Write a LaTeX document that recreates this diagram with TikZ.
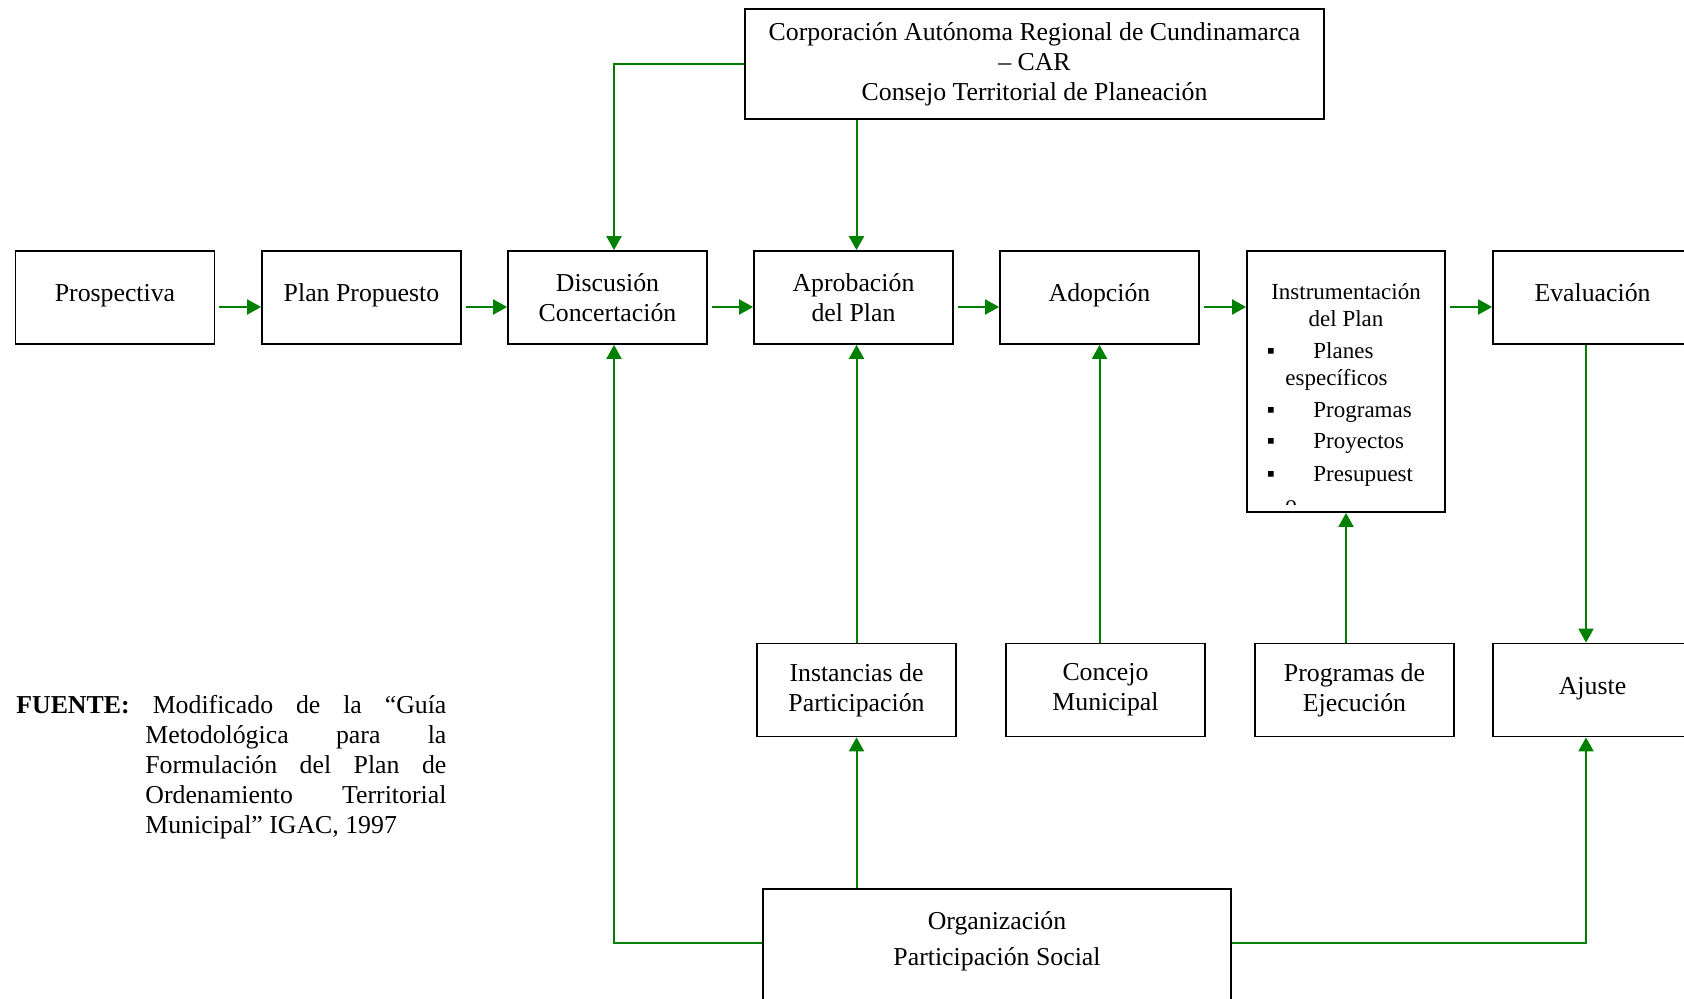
\documentclass[tikz,border=0pt]{standalone}
\usepackage{fontspec}
\setmainfont{Liberation Serif}
\usetikzlibrary{arrows.meta,positioning}

\definecolor{verde}{RGB}{0,128,0}
\tikzset{
  caja/.style={draw=black,line width=0.9pt,minimum width=99.5pt,minimum height=46.5pt,align=center,inner sep=2pt},
  una/.style={text depth=5pt},
  flecha/.style={draw=verde,line width=1pt,-{Triangle[length=7pt,width=7.5pt,fill=verde]}},
  lista/.style={font=\fontsize{11.5}{13}\selectfont,inner sep=0pt,anchor=base},
}

\begin{document}
\begin{tikzpicture}[x=0.5pt,y=-0.5pt,font=\fontsize{12.9}{15}\selectfont]
\clip (0,0) rectangle (1684,999);
% \draw[step=50,gray,very thin] (0,0) grid (1684,999);

% cajas
\node[caja,minimum width=289.5pt,minimum height=55pt] (corp) at (1034.5,64) {Corporación Autónoma Regional de Cundinamarca\\– CAR\\Consejo Territorial de Planeación};

\node[caja,una] (prosp) at (115,297.5) {Prospectiva};
\node[caja,una] (plan) at (361.5,297.5) {Plan Propuesto};
\node[caja] (disc) at (607.5,297.5) {Discusión\\Concertación};
\node[caja] (aprob) at (853.5,297.5) {Aprobación\\del Plan};
\node[caja,una] (adop) at (1099.5,297.5) {Adopción};
\node[caja,minimum width=99pt,minimum height=130.5pt] (instr) at (1346,381.5) {};
\node[caja,una] (eval) at (1592.5,297.5) {Evaluación};

\node[caja] (inst) at (856.5,690) {Instancias de\\Participación};
\node[caja] (conc) at (1105.5,690) {Concejo\\Municipal};
\node[caja] (prog) at (1354.5,690) {Programas de\\Ejecución};
\node[caja,text depth=3.8pt] (ajuste) at (1592.5,690) {Ajuste};

\node[caja,minimum width=234pt,minimum height=70pt] (org) at (997,959) {};
\node[align=center] (orgtxt) at (997,941) {Organización\\[3pt]Participación Social};

% texto de instrumentacion (cortado por la caja)
\begin{scope}
\clip (instr.north west) rectangle ([yshift=4pt]instr.south east);
\node[lista] (i1) at (1346,300) {Instrumentación};
\node[lista] (i2) at (1346,327) {del Plan};
\node[lista] (b1) at (1271,359) {▪};
\node[lista,anchor=base west] (i3) at (1313,359) {Planes};
\node[lista,anchor=base west] (i4) at (1285,386) {específicos};
\node[lista] (b2) at (1271,418) {▪};
\node[lista,anchor=base west] (i5) at (1313,418) {Programas};
\node[lista] (b3) at (1271,449) {▪};
\node[lista,anchor=base west] (i6) at (1313,449) {Proyectos};
\node[lista] (b4) at (1271,481) {▪};
\node[lista,anchor=base west] (i7) at (1313,481) {Presupuest};
\node[lista,anchor=base west] (i8) at (1285,511) {o};
\end{scope}

% fuente
\node[anchor=base west,inner sep=0pt,font=\fontsize{12.9}{15}\selectfont\bfseries] (fuente) at (16,713) {FUENTE:};
\node[anchor=north west,inner sep=0pt,align=left] (cita) at (145,695) {%
\hspace*{3.7pt}\makebox[146.8pt][s]{Modificado de la “Guía}\\
\makebox[150.5pt][s]{Metodológica para la}\\
\makebox[150.5pt][s]{Formulación del Plan de}\\
\makebox[150.5pt][s]{Ordenamiento Territorial}\\
Municipal” IGAC, 1997};

% flechas
\coordinate (fila) at (0,307);
\foreach \a/\b in {prosp/plan,plan/disc,disc/aprob,aprob/adop,adop/instr,instr/eval}
  \draw[flecha,shorten <=2pt] (\a.east |- fila) -- (\b.west |- fila);

\draw[flecha] (corp.west) -| ([xshift=3.25pt]disc.north);
\draw[flecha] (corp.south -| inst) -- (aprob.north -| inst);
\draw[flecha] (inst.north) -- (aprob.south -| inst);
\draw[flecha] (org.north -| inst) -- (inst.south);
\draw[flecha] ([yshift=8pt]org.west) -| ([xshift=3.25pt]disc.south);
\draw[flecha] ([yshift=8pt]org.east) -| ([xshift=-3.25pt]ajuste.south);
\draw[flecha] ([xshift=-3.25pt]eval.south) -- ([xshift=-3.25pt]ajuste.north);
\draw[flecha] (conc.north -| adop) -- (adop.south);
\draw[flecha] (prog.north -| instr) -- (instr.south);
\end{tikzpicture}
\end{document}
